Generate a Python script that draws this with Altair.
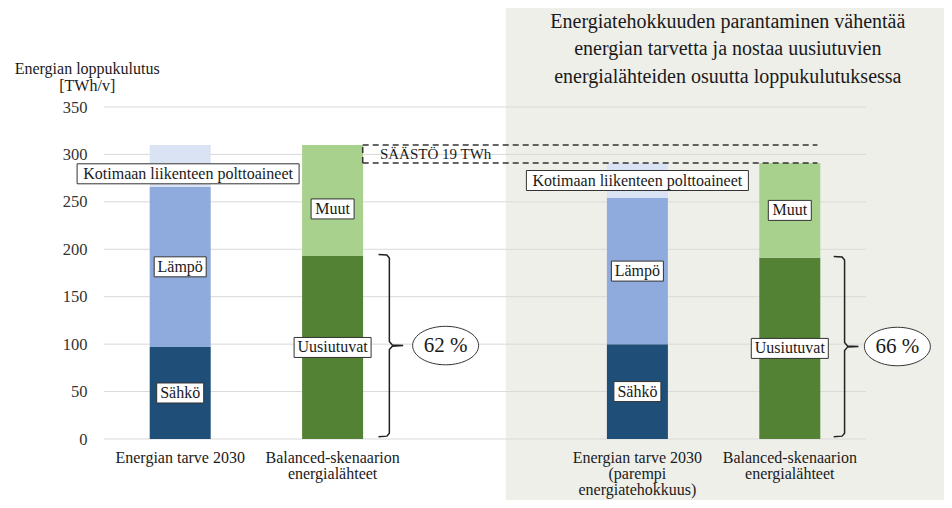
import altair as alt
import pandas as pd

# ------------------------------------------------------------------ data
TICKS = [0, 50, 100, 150, 200, 250, 300, 350]

DEMAND_POS = [1, 4]
DEMAND_LABELS = [["Energian tarve 2030"],
                 ["Energian tarve 2030", "(parempi", "energiatehokkuus)"]]
SAHKO = [97, 100]
LAMPO = [169, 154]
LIIKENNE = [44, 37]

SUPPLY_POS = [2, 5]
SUPPLY_LABELS = [["Balanced-skenaarion", "energialähteet"],
                 ["Balanced-skenaarion", "energialähteet"]]
UUSIUTUVAT = [193, 191]
MUUT = [117, 100]
SHARE_LABELS = ["62 %", "66 %"]

SAVING_LABEL = "SÄÄSTÖ 19 TWh"
Y_TITLE = ["Energian loppukulutus", "[TWh/v]"]
PANEL_TITLE = ["Energiatehokkuuden parantaminen vähentää",
               "energian tarvetta ja nostaa uusiutuvien",
               "energialähteiden osuutta loppukulutuksessa"]

SEGMENTS = ["Sähkö", "Lämpö", "Kotimaan liikenteen polttoaineet", "Uusiutuvat", "Muut"]
COLORS = ["#1f4e79", "#8faadc", "#dae3f3", "#548235", "#a9d18e"]

# ------------------------------------------------------------------ layout / style
FONT = "Liberation Serif"
TXT = "#1a1a1a"
W, H = 772, 332
X_DOM = [0.5, 5.5]
Y_DOM = [0, 350]
LEFT, TOP = 99, 107                      # page position of the plot origin
PXU_X = W / (X_DOM[1] - X_DOM[0])
PXU_Y = H / (Y_DOM[1] - Y_DOM[0])


def ux(page_x):
    return X_DOM[0] + (page_x - LEFT) / PXU_X


def uy(page_y):
    return (TOP + H - page_y) / PXU_Y


def dx(p):
    return p / PXU_X


def dy(p):
    return p / PXU_Y


BAR_W = 61
BOX_W = {"Sähkö": 47, "Lämpö": 52, "Kotimaan liikenteen polttoaineet": 222,
         "Uusiutuvat": 77, "Muut": 43}
BOX_H = 20
# label offsets (px) from the segment centre
LABEL_OFF = {(1, "Kotimaan liikenteen polttoaineet"): (8, -8), (2, "Muut"): (0, -8.5)}
BRACE_DX = [57.5, 55.5]
ELLIPSE_DX = [114.5, 109]
ELL_W, ELL_H = 66, 38.5

xs = alt.Scale(domain=X_DOM, nice=False, zero=False)
ys = alt.Scale(domain=Y_DOM, nice=False, zero=False)
Y_AXIS = alt.Axis(values=TICKS, grid=False, domain=False, ticks=False, tickSize=0,
                  labelPadding=12, labelFont=FONT, labelFontSize=16.5,
                  labelColor="#333333", title=None)

# ------------------------------------------------------------------ tables
segs = []
for pos, s, l, k in zip(DEMAND_POS, SAHKO, LAMPO, LIIKENNE):
    b = 0
    for name, v in [("Sähkö", s), ("Lämpö", l), ("Kotimaan liikenteen polttoaineet", k)]:
        segs.append(dict(pos=pos, seg=name, y0=b, y1=b + v))
        b += v
for pos, u, m in zip(SUPPLY_POS, UUSIUTUVAT, MUUT):
    b = 0
    for name, v in [("Uusiutuvat", u), ("Muut", m)]:
        segs.append(dict(pos=pos, seg=name, y0=b, y1=b + v))
        b += v
seg_df = pd.DataFrame(segs)

labels = []
for r in segs:
    ox, oy = LABEL_OFF.get((r["pos"], r["seg"]), (0, 0))
    cy = (r["y0"] + r["y1"]) / 2 + dy(oy)
    labels.append(dict(x=r["pos"] + dx(ox), y=cy, ylo=cy - dy(BOX_H / 2),
                       yhi=cy + dy(BOX_H / 2), w=BOX_W[r["seg"]], text=r["seg"]))
lab_df = pd.DataFrame(labels)

totals_demand = [s + l + k for s, l, k in zip(SAHKO, LAMPO, LIIKENNE)]
top_hi, top_lo = totals_demand[0], totals_demand[1]
x_start = SUPPLY_POS[0] + dx(BAR_W / 2)
x_end = SUPPLY_POS[1] + dx(28)
dash_df = pd.DataFrame([
    dict(x=x_start, x2=x_end, y=top_hi, y2=top_hi),
    dict(x=x_start, x2=x_end, y=top_lo, y2=top_lo),
    dict(x=x_start, x2=x_start, y=top_lo, y2=top_hi),
])

brace = []
for i, (pos, u) in enumerate(zip(SUPPLY_POS, UUSIUTUVAT)):
    xv = pos + dx(BRACE_DX[i])
    top, bot = u + 1.5, 2.5
    mid = (top + bot) / 2
    pts = [(-11, top), (-2.5, top - dy(0.5)), (0, top - dy(3.5)), (0, mid + dy(4)),
           (3, mid + dy(0.6)), (14, mid), (3, mid - dy(0.6)), (0, mid - dy(4)),
           (0, bot + dy(3.5)), (-2.5, bot + dy(0.5)), (-11, bot)]
    for j, (px_, yv) in enumerate(pts):
        brace.append(dict(b=i, o=j, x=xv + dx(px_), y=yv))
brace_df = pd.DataFrame(brace)

ell_df = pd.DataFrame([
    dict(x=pos + dx(ELLIPSE_DX[i]), y=(UUSIUTUVAT[i] + 4) / 2, text=SHARE_LABELS[i])
    for i, pos in enumerate(SUPPLY_POS)
])

texts = []
line_y = [uy(458), uy(474), uy(490)]
for pos, lines in zip(DEMAND_POS + SUPPLY_POS, DEMAND_LABELS + SUPPLY_LABELS):
    for j, t in enumerate(lines):
        texts.append(dict(x=pos, y=line_y[j], text=t, fs=16))
for j, t in enumerate(Y_TITLE):
    texts.append(dict(x=ux(82), y=[uy(68.8), uy(86)][j], text=t, fs=16))
for j, t in enumerate(PANEL_TITLE):
    texts.append(dict(x=ux(731), y=[uy(22.3), uy(49.3), uy(77)][j], text=t, fs=20))
texts.append(dict(x=ux(435), y=(top_hi + top_lo) / 2, text=SAVING_LABEL, fs=15))
for r in ell_df.itertuples():
    texts.append(dict(x=r.x, y=r.y, text=r.text, fs=21))
for r in labels:
    texts.append(dict(x=r["x"], y=r["y"], text=r["text"], fs=16))
txt_df = pd.DataFrame(texts)

bg_df = pd.DataFrame([dict(x=ux(506), x2=ux(1000), y=uy(-20), y2=uy(540))])
grid_df = pd.DataFrame(dict(y=TICKS))


def X(f):
    return alt.X(f, scale=xs, axis=None)


def Y(f):
    return alt.Y(f, scale=ys, axis=Y_AXIS)


# ------------------------------------------------------------------ layers
bg = alt.Chart(bg_df).mark_rect(color="#efefea").encode(
    x=X("x:Q"), x2="x2:Q", y=Y("y:Q"), y2="y2:Q")

grid = alt.Chart(grid_df).mark_rule(color="#d9d9d9", strokeWidth=1).encode(
    y=Y("y:Q"), x=alt.datum(X_DOM[0], scale=xs, axis=None), x2=alt.datum(X_DOM[1]))

bars = alt.Chart(seg_df).mark_bar(size=BAR_W).encode(
    x=X("pos:Q"),
    y=Y("y0:Q"),
    y2="y1:Q",
    color=alt.Color("seg:N", scale=alt.Scale(domain=SEGMENTS, range=COLORS), legend=None),
)

dashes = alt.Chart(dash_df).mark_rule(color="#333333", strokeWidth=1.5, strokeDash=[6, 4]).encode(
    x=X("x:Q"), x2="x2:Q", y=Y("y:Q"), y2="y2:Q")

braces = alt.Chart(brace_df).mark_line(color="#222222", strokeWidth=1.5).encode(
    x=X("x:Q"), y=Y("y:Q"), detail="b:N", order="o:Q")

ELL_PATH = "M-1,0A1,%.4f,0,1,1,1,0A1,%.4f,0,1,1,-1,0Z" % (ELL_H / ELL_W, ELL_H / ELL_W)
ellipses = alt.Chart(ell_df).mark_point(
    shape=ELL_PATH, size=ELL_W ** 2, filled=True, fill="#ffffff", stroke="#333333",
    strokeWidth=1, opacity=1).encode(x=X("x:Q"), y=Y("y:Q"))

boxes = alt.Chart(lab_df).mark_bar(fill="#ffffff", stroke="#333333", strokeWidth=1).encode(
    x=X("x:Q"), y=Y("ylo:Q"), y2="yhi:Q", size=alt.Size("w:Q", scale=None, legend=None))

text = alt.Chart(txt_df).mark_text(font=FONT, color=TXT, align="center", baseline="middle").encode(
    x=X("x:Q"), y=Y("y:Q"), text="text:N", size=alt.Size("fs:Q", scale=None, legend=None))

chart = alt.layer(bg, grid, bars, dashes, braces, ellipses, boxes, text).properties(
    width=W, height=H,
    padding={"left": LEFT - 8, "top": TOP - 8, "right": 936 - (LEFT - 8) - W,
             "bottom": 492 - (TOP - 8) - H},
    autosize=alt.AutoSizeParams(type="none"),
    background="#ffffff",
).configure_view(stroke=None)

chart.save("out.html", embed_options={"renderer": "svg", "actions": False})
